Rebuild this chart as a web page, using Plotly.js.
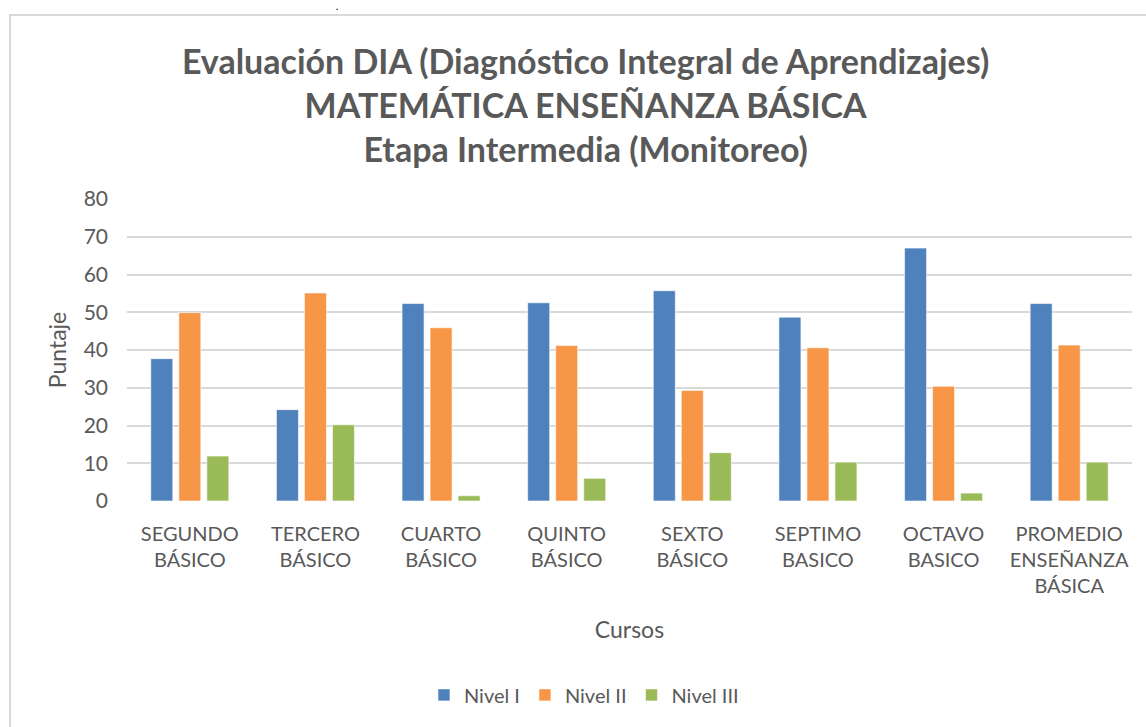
<!DOCTYPE html>
<html>
<head>
<meta charset="utf-8">
<script src="https://cdn.plot.ly/plotly-3.0.1.min.js"></script>
<style>
  html, body { margin: 0; padding: 0; background: #ffffff; }
  #frame {
    position: absolute; left: 9px; top: 14px; width: 1137px; height: 713px;
    border-left: 2px solid #d9d9d9; border-top: 2px solid #d9d9d9;
  }
  #graph { position: absolute; left: 0; top: 0; width: 1146px; height: 727px; }
</style>
</head>
<body>
<div id="frame"></div>
<div id="graph"></div>
<script>
  // cursos (categorias del eje x)
  const cursos = [
    "SEGUNDO<br>BÁSICO",
    "TERCERO<br>BÁSICO",
    "CUARTO<br>BÁSICO",
    "QUINTO<br>BÁSICO",
    "SEXTO<br>BÁSICO",
    "SEPTIMO<br>BASICO",
    "OCTAVO<br>BASICO",
    "PROMEDIO<br>ENSEÑANZA<br>BÁSICA",
  ];

  // puntajes por nivel
  const nivel1 = [37.7, 24.2, 52.3, 52.5, 55.7, 48.7, 67.0, 52.3];
  const nivel2 = [49.9, 55.1, 45.9, 41.2, 29.3, 40.6, 30.4, 41.3];
  const nivel3 = [11.9, 20.2, 1.4, 6.0, 12.8, 10.3, 2.1, 10.3];

  const yTicks = [0, 10, 20, 30, 40, 50, 60, 70, 80];

  const FONT = "Lato, 'Open Sans', sans-serif";
  const GREY = "#595959";

  const serie = (name, values, color) => ({
    type: "bar",
    name: name,
    x: cursos,
    y: values,
    marker: { color: color, line: { color: "rgba(255,255,255,0.6)", width: 1 } },
    hoverinfo: "x+y+name",
  });

  const data = [
    serie("Nivel I", nivel1, "#4f81bd"),
    serie("Nivel II", nivel2, "#f79646"),
    serie("Nivel III", nivel3, "#9bbb59"),
  ];

  const layout = {
    width: 1146,
    height: 727,
    margin: { l: 127, r: 14, t: 199, b: 226 },
    paper_bgcolor: "rgba(0,0,0,0)",
    plot_bgcolor: "rgba(0,0,0,0)",
    font: { family: FONT, color: GREY, size: 20 },
    showlegend: true,
    barmode: "group",
    bargap: 0.331,
    bargroupgap: 0.214,
    title: {
      text: "Evaluación DIA (Diagnóstico Integral de Aprendizajes)<br>MATEMÁTICA ENSEÑANZA BÁSICA<br>Etapa Intermedia (Monitoreo)",
      font: { family: FONT, size: 34, color: GREY, weight: "bold" },
      xref: "container",
      x: 0.511,
      xanchor: "center",
      yref: "container",
      y: 1 - 74 / 727,
      yanchor: "top",
    },
    xaxis: {
      type: "category",
      showgrid: false,
      showline: false,
      zeroline: false,
      ticks: "",
      ticklabelstandoff: 19,
      tickfont: { family: FONT, size: 20, color: GREY },
      title: { text: "Cursos", font: { family: FONT, size: 23, color: GREY }, standoff: 25 },
      automargin: false,
    },
    yaxis: {
      range: [0, 80],
      tickvals: yTicks,
      showgrid: true,
      gridcolor: "#d9d9d9",
      gridwidth: 1.5,
      zeroline: false,
      showline: false,
      ticks: "",
      ticklabelstandoff: 18,
      tickfont: { family: FONT, size: 21, color: GREY },
      title: { text: "Puntaje", font: { family: FONT, size: 23, color: GREY }, standoff: 10 },
      automargin: false,
    },
    legend: {
      orientation: "h",
      x: 0.4547,
      xanchor: "center",
      y: -0.642,
      yanchor: "middle",
      font: { family: FONT, size: 20, color: GREY },
      itemwidth: 30,
      bgcolor: "rgba(0,0,0,0)",
    },
    annotations: [
      {
        text: ".",
        xref: "paper",
        yref: "paper",
        x: (337 - 127) / 1005,
        y: (501 - 0) / 302,
        xanchor: "center",
        yanchor: "top",
        borderpad: 0,
        showarrow: false,
        font: { family: FONT, size: 9, color: "#000000", weight: "bold" },
      },
    ],
  };

  Plotly.newPlot("graph", data, layout, { displayModeBar: false });
</script>
</body>
</html>
